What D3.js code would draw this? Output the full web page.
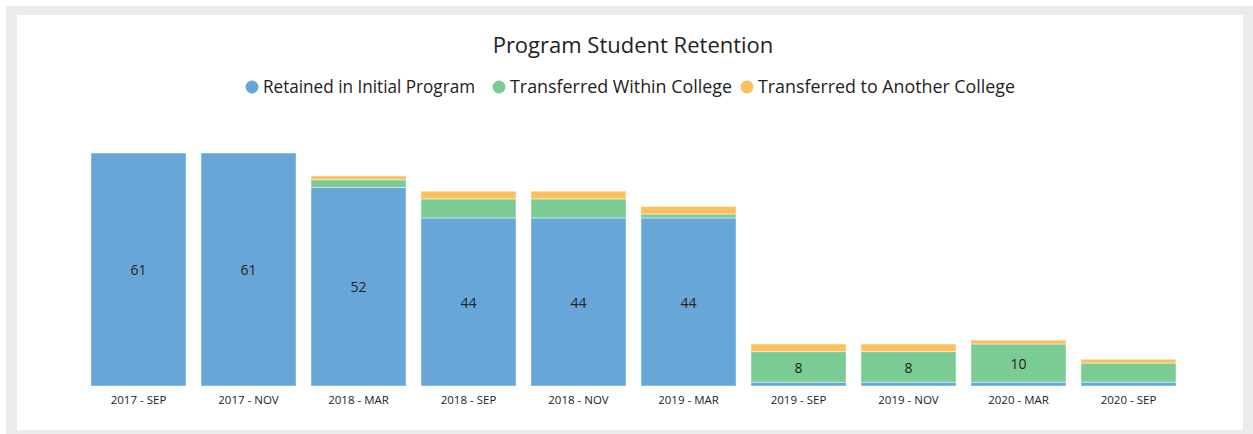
<!DOCTYPE html>
<html>
<head>
<meta charset="utf-8">
<script src="https://cdn.jsdelivr.net/npm/d3@7"></script>
<style>
  html, body { margin: 0; padding: 0; background: #fff; }
  #chart { width: 1253px; height: 434px; }
</style>
</head>
<body>
<div id="chart"></div>
<script>
const periods = ["2017 - SEP", "2017 - NOV", "2018 - MAR", "2018 - SEP", "2018 - NOV",
  "2019 - MAR", "2019 - SEP", "2019 - NOV", "2020 - MAR", "2020 - SEP"]
const retained = [61, 61, 52, 44, 44, 44, 1, 1, 1, 1]
const withinCollege = [0, 0, 2, 5, 5, 1, 8, 8, 10, 5]
const anotherCollege = [0, 0, 1, 2, 2, 2, 2, 2, 1, 1]
const seriesNames = ["Retained in Initial Program", "Transferred Within College", "Transferred to Another College"]
const seriesColors = ["#68a6da", "#7bcb95", "#fec05f"]

const width = 1253
const height = 434
const font = "'Open Sans', 'Noto Sans', sans-serif"

const svg = d3.select("#chart").append("svg")
  .attr("width", width)
  .attr("height", height)

// grey frame around the white panel
svg.append("rect")
  .attr("x", 6).attr("y", 6)
  .attr("width", width - 6).attr("height", height - 6)
  .attr("fill", "#ececec")
svg.append("rect")
  .attr("x", 17).attr("y", 15)
  .attr("width", 1226).attr("height", 415)
  .attr("fill", "#fff")

const rows = periods.map((p, i) => ({
  period: p,
  retained: retained[i],
  within: withinCollege[i],
  another: anotherCollege[i]
}))
const keys = ["retained", "within", "another"]
const stacked = d3.stack().keys(keys)(rows)

const x = d3.scaleBand()
  .domain(periods)
  .range([83.5, 1183.5])
  .paddingInner(0.136)
  .paddingOuter(0.068)

const y = d3.scaleLinear()
  .domain([0, 61])
  .range([386, 153])

// title
svg.append("text")
  .attr("x", 633)
  .attr("y", 53)
  .attr("text-anchor", "middle")
  .attr("font-family", font)
  .attr("font-size", "22px")
  .attr("fill", "#222")
  .text("Program Student Retention")

// legend
const legendX = [252, 499, 747]
const legendW = [212, 222, 257]
seriesNames.forEach((name, i) => {
  const g = svg.append("g").attr("transform", `translate(${legendX[i]},87)`)
  g.append("circle").attr("r", 6.5).attr("fill", seriesColors[i])
  g.append("text")
    .attr("x", 11)
    .attr("y", 6)
    .attr("font-family", font)
    .attr("font-size", "17.5px")
    .attr("fill", "#222")
    .attr("textLength", legendW[i])
    .attr("lengthAdjust", "spacingAndGlyphs")
    .text(name)
})

// bars
stacked.forEach((layer, li) => {
  const g = svg.append("g")
  g.selectAll("rect")
    .data(layer)
    .join("rect")
    .attr("x", d => x(d.data.period))
    .attr("y", d => y(d[1]))
    .attr("width", x.bandwidth())
    .attr("height", d => Math.max(0, y(d[0]) - y(d[1])))
    .attr("fill", seriesColors[li])
    .attr("stroke", "rgba(255,255,255,0.45)")
    .attr("stroke-width", 1)

  // value labels only where the segment is tall enough
  g.selectAll("text")
    .data(layer.filter(d => y(d[0]) - y(d[1]) > 25))
    .join("text")
    .attr("x", d => x(d.data.period) + x.bandwidth() / 2)
    .attr("y", d => (y(d[0]) + y(d[1])) / 2 + 2)
    .attr("text-anchor", "middle")
    .attr("dominant-baseline", "middle")
    .attr("font-family", font)
    .attr("font-size", "14px")
    .attr("fill", "#222")
    .text(d => d[1] - d[0])
})

// x axis labels
svg.append("g")
  .attr("transform", "translate(0,386)")
  .call(d3.axisBottom(x).tickSize(0).tickPadding(10))
  .call(g => g.select(".domain").remove())
  .selectAll("text")
  .attr("font-family", font)
  .attr("font-size", "11.5px")
  .attr("fill", "#222")
</script>
</body>
</html>
